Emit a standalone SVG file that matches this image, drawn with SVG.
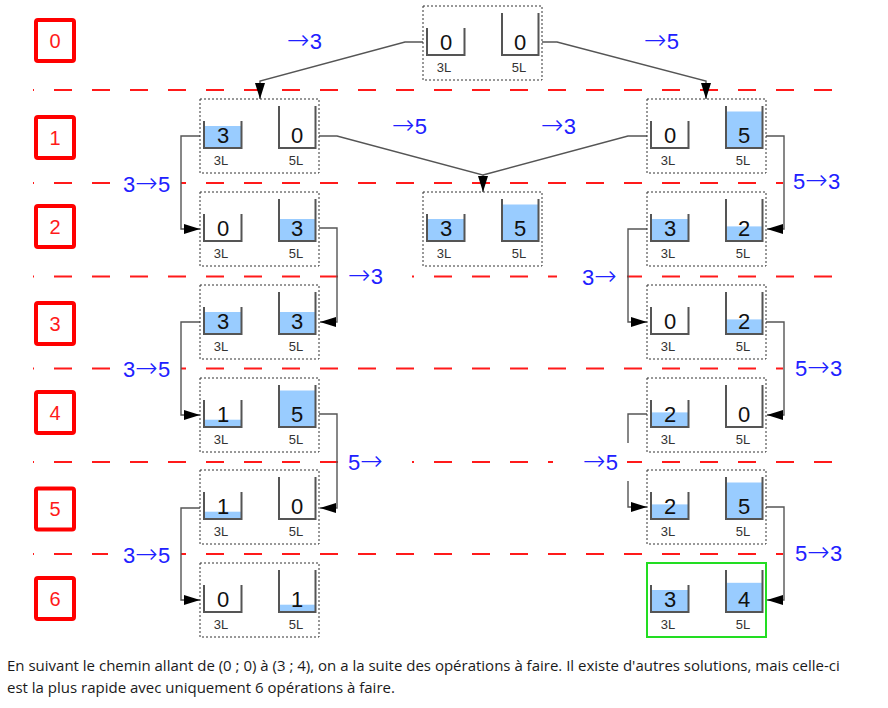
<svg xmlns="http://www.w3.org/2000/svg" xmlns:xlink="http://www.w3.org/1999/xlink" width="888" height="708" viewBox="0 0 888 708">
<style>
.lvl{fill:none;stroke:#ff0000;stroke-width:4}
.lvlt{font-family:"Liberation Sans",Arial,sans-serif;font-size:20px;fill:#ff1a1a;text-anchor:middle}
.sep{stroke:#ff1a1a;stroke-width:2;stroke-dasharray:18 20;stroke-dashoffset:17;fill:none}
.gap{fill:#ffffff}
.box{fill:none;stroke:#333;stroke-width:1;stroke-dasharray:2 2}
.goal{fill:none;stroke:#22dd22;stroke-width:2}
.jar{fill:none;stroke:#555;stroke-width:2}
.w{fill:#99ccff}
.num{font-family:"Liberation Sans",Arial,sans-serif;font-size:22px;fill:#111;text-anchor:middle}
.cap{font-family:"Liberation Sans",Arial,sans-serif;font-size:13px;fill:#333;text-anchor:middle}
.op{font-family:"Liberation Sans",Arial,sans-serif;font-size:22px;fill:#2020ff}
.ar{font-family:"DejaVu Sans",sans-serif;font-size:27px;font-weight:200}
.con{fill:none;stroke:#555;stroke-width:1.4}
.note{font-family:"Open Sans","Noto Sans",sans-serif;font-size:15px;fill:#1a1a1a}
</style>
<defs>
<marker id="ah" markerUnits="userSpaceOnUse" markerWidth="16" markerHeight="10" refX="16" refY="5" orient="auto">
<path d="M0,0 L16,5 L0,10 z" fill="#000"/>
</marker>
<path id="jar3" class="jar" d="M4,22 V49 H41.5 V22"/>
<path id="jar5" class="jar" d="M79,7 V49 H115.5 V7"/>
</defs>

<g id="levels">
<rect class="lvl" x="36" y="20" width="38" height="41" rx="2"/><text class="lvlt" x="55" y="47.5">0</text>
<rect class="lvl" x="36" y="117" width="38" height="41" rx="2"/><text class="lvlt" x="55" y="144.5">1</text>
<rect class="lvl" x="36" y="206" width="38" height="41" rx="2"/><text class="lvlt" x="55" y="233.5">2</text>
<rect class="lvl" x="36" y="303" width="38" height="41" rx="2"/><text class="lvlt" x="55" y="330.5">3</text>
<rect class="lvl" x="36" y="392" width="38" height="41" rx="2"/><text class="lvlt" x="55" y="419.5">4</text>
<rect class="lvl" x="36" y="488.5" width="38" height="41" rx="2"/><text class="lvlt" x="55" y="516">5</text>
<rect class="lvl" x="36" y="578" width="38" height="41" rx="2"/><text class="lvlt" x="55" y="605.5">6</text>
</g>

<g id="separators">
<line class="sep" x1="33" y1="90" x2="848" y2="90"/>
<line class="sep" x1="33" y1="183" x2="848" y2="183"/>
<line class="sep" x1="33" y1="276.5" x2="848" y2="276.5"/>
<line class="sep" x1="33" y1="368.5" x2="848" y2="368.5"/>
<line class="sep" x1="33" y1="462" x2="848" y2="462"/>
<line class="sep" x1="33" y1="554" x2="848" y2="554"/>
<rect class="gap" x="110" y="171" width="71" height="24"/>
<rect class="gap" x="783" y="171" width="70" height="24"/>
<rect class="gap" x="338" y="264" width="74" height="24"/>
<rect class="gap" x="557" y="264" width="70" height="24"/>
<rect class="gap" x="111" y="356" width="70" height="24"/>
<rect class="gap" x="783" y="356" width="70" height="24"/>
<rect class="gap" x="338" y="450" width="74" height="24"/>
<rect class="gap" x="553" y="450" width="74" height="24"/>
<rect class="gap" x="108" y="542" width="73" height="24"/>
<rect class="gap" x="783" y="542" width="70" height="24"/>
</g>

<g id="connectors">
<path class="con" d="M423,42 H405 L260,81 V99" marker-end="url(#ah)"/>
<path class="con" d="M542,42 H557 L706,81 V99" marker-end="url(#ah)"/>
<path class="con" d="M319,136 H337 L483,175 V192" marker-end="url(#ah)"/>
<path class="con" d="M647,136 H628 L483,175"/>
<path class="con" d="M200,136 H181 V229 H200" marker-end="url(#ah)"/>
<path class="con" d="M319,228 H337 V322 H320" marker-end="url(#ah)"/>
<path class="con" d="M200,322 H181 V415 H200" marker-end="url(#ah)"/>
<path class="con" d="M319,414 H337 V508 H320" marker-end="url(#ah)"/>
<path class="con" d="M200,508 H181 V600 H200" marker-end="url(#ah)"/>
<path class="con" d="M766,136 H784 V229 H767" marker-end="url(#ah)"/>
<path class="con" d="M647,229 H628 V322 H647" marker-end="url(#ah)"/>
<path class="con" d="M766,322 H784 V415 H767" marker-end="url(#ah)"/>
<path class="con" d="M647,414 H628 V443"/>
<path class="con" d="M628,481 V507 H647" marker-end="url(#ah)"/>
<path class="con" d="M766,507 H784 V600 H767" marker-end="url(#ah)"/>
</g>

<g id="operations">
<text class="op" x="287" y="49"><tspan class="ar">→</tspan>3</text>
<text class="op" x="644" y="49"><tspan class="ar">→</tspan>5</text>
<text class="op" x="392" y="134"><tspan class="ar">→</tspan>5</text>
<text class="op" x="541" y="134"><tspan class="ar">→</tspan>3</text>
<text class="op" x="123" y="192">3<tspan class="ar">→</tspan>5</text>
<text class="op" x="793" y="189">5<tspan class="ar">→</tspan>3</text>
<text class="op" x="348" y="284"><tspan class="ar">→</tspan>3</text>
<text class="op" x="582" y="285">3<tspan class="ar">→</tspan></text>
<text class="op" x="123" y="377">3<tspan class="ar">→</tspan>5</text>
<text class="op" x="795" y="376">5<tspan class="ar">→</tspan>3</text>
<text class="op" x="348" y="470">5<tspan class="ar">→</tspan></text>
<text class="op" x="583" y="470"><tspan class="ar">→</tspan>5</text>
<text class="op" x="123" y="563">3<tspan class="ar">→</tspan>5</text>
<text class="op" x="795" y="561">5<tspan class="ar">→</tspan>3</text>
</g>

<g id="n0" transform="translate(423,6)">
<rect class="box" x="0" y="0" width="119" height="74"/>
<use xlink:href="#jar3"/><use xlink:href="#jar5"/>
<text class="num" x="23" y="44">0</text><text class="num" x="97" y="44">0</text>
<text class="cap" x="21" y="66">3L</text><text class="cap" x="96" y="66">5L</text>
</g>

<g id="n1a" transform="translate(200,99)">
<rect class="box" x="0" y="0" width="119" height="74"/>
<rect class="w" x="4" y="27" width="37.5" height="22"/>
<use xlink:href="#jar3"/><use xlink:href="#jar5"/>
<text class="num" x="23" y="44">3</text><text class="num" x="97" y="44">0</text>
<text class="cap" x="21" y="66">3L</text><text class="cap" x="96" y="66">5L</text>
</g>

<g id="n1b" transform="translate(647,99)">
<rect class="box" x="0" y="0" width="119" height="74"/>
<rect class="w" x="79" y="12.5" width="36.5" height="36.5"/>
<use xlink:href="#jar3"/><use xlink:href="#jar5"/>
<text class="num" x="23" y="44">0</text><text class="num" x="97" y="44">5</text>
<text class="cap" x="21" y="66">3L</text><text class="cap" x="96" y="66">5L</text>
</g>

<g id="n2a" transform="translate(200,192)">
<rect class="box" x="0" y="0" width="119" height="74"/>
<rect class="w" x="79" y="27" width="36.5" height="22"/>
<use xlink:href="#jar3"/><use xlink:href="#jar5"/>
<text class="num" x="23" y="44">0</text><text class="num" x="97" y="44">3</text>
<text class="cap" x="21" y="66">3L</text><text class="cap" x="96" y="66">5L</text>
</g>

<g id="n2m" transform="translate(423,192)">
<rect class="box" x="0" y="0" width="119" height="74"/>
<rect class="w" x="4" y="27" width="37.5" height="22"/>
<rect class="w" x="79" y="12.5" width="36.5" height="36.5"/>
<use xlink:href="#jar3"/><use xlink:href="#jar5"/>
<text class="num" x="23" y="44">3</text><text class="num" x="97" y="44">5</text>
<text class="cap" x="21" y="66">3L</text><text class="cap" x="96" y="66">5L</text>
</g>

<g id="n2b" transform="translate(647,192)">
<rect class="box" x="0" y="0" width="119" height="74"/>
<rect class="w" x="4" y="27" width="37.5" height="22"/>
<rect class="w" x="79" y="34.4" width="36.5" height="14.6"/>
<use xlink:href="#jar3"/><use xlink:href="#jar5"/>
<text class="num" x="23" y="44">3</text><text class="num" x="97" y="44">2</text>
<text class="cap" x="21" y="66">3L</text><text class="cap" x="96" y="66">5L</text>
</g>

<g id="n3a" transform="translate(200,285)">
<rect class="box" x="0" y="0" width="119" height="74"/>
<rect class="w" x="4" y="27" width="37.5" height="22"/>
<rect class="w" x="79" y="27" width="36.5" height="22"/>
<use xlink:href="#jar3"/><use xlink:href="#jar5"/>
<text class="num" x="23" y="44">3</text><text class="num" x="97" y="44">3</text>
<text class="cap" x="21" y="66">3L</text><text class="cap" x="96" y="66">5L</text>
</g>

<g id="n3b" transform="translate(647,285)">
<rect class="box" x="0" y="0" width="119" height="74"/>
<rect class="w" x="79" y="34.4" width="36.5" height="14.6"/>
<use xlink:href="#jar3"/><use xlink:href="#jar5"/>
<text class="num" x="23" y="44">0</text><text class="num" x="97" y="44">2</text>
<text class="cap" x="21" y="66">3L</text><text class="cap" x="96" y="66">5L</text>
</g>

<g id="n4a" transform="translate(200,378)">
<rect class="box" x="0" y="0" width="119" height="74"/>
<rect class="w" x="4" y="41.7" width="37.5" height="7.3"/>
<rect class="w" x="79" y="12.5" width="36.5" height="36.5"/>
<use xlink:href="#jar3"/><use xlink:href="#jar5"/>
<text class="num" x="23" y="44">1</text><text class="num" x="97" y="44">5</text>
<text class="cap" x="21" y="66">3L</text><text class="cap" x="96" y="66">5L</text>
</g>

<g id="n4b" transform="translate(647,378)">
<rect class="box" x="0" y="0" width="119" height="74"/>
<rect class="w" x="4" y="34.4" width="37.5" height="14.6"/>
<use xlink:href="#jar3"/><use xlink:href="#jar5"/>
<text class="num" x="23" y="44">2</text><text class="num" x="97" y="44">0</text>
<text class="cap" x="21" y="66">3L</text><text class="cap" x="96" y="66">5L</text>
</g>

<g id="n5a" transform="translate(200,470)">
<rect class="box" x="0" y="0" width="119" height="74"/>
<rect class="w" x="4" y="41.7" width="37.5" height="7.3"/>
<use xlink:href="#jar3"/><use xlink:href="#jar5"/>
<text class="num" x="23" y="44">1</text><text class="num" x="97" y="44">0</text>
<text class="cap" x="21" y="66">3L</text><text class="cap" x="96" y="66">5L</text>
</g>

<g id="n5b" transform="translate(647,470)">
<rect class="box" x="0" y="0" width="119" height="74"/>
<rect class="w" x="4" y="34.4" width="37.5" height="14.6"/>
<rect class="w" x="79" y="12.5" width="36.5" height="36.5"/>
<use xlink:href="#jar3"/><use xlink:href="#jar5"/>
<text class="num" x="23" y="44">2</text><text class="num" x="97" y="44">5</text>
<text class="cap" x="21" y="66">3L</text><text class="cap" x="96" y="66">5L</text>
</g>

<g id="n6a" transform="translate(200,563)">
<rect class="box" x="0" y="0" width="119" height="74"/>
<rect class="w" x="79" y="41.7" width="36.5" height="7.3"/>
<use xlink:href="#jar3"/><use xlink:href="#jar5"/>
<text class="num" x="23" y="44">0</text><text class="num" x="97" y="44">1</text>
<text class="cap" x="21" y="66">3L</text><text class="cap" x="96" y="66">5L</text>
</g>

<g id="n6b" transform="translate(647,563)">
<rect class="goal" x="0" y="0" width="119" height="74"/>
<rect class="w" x="4" y="27" width="37.5" height="22"/>
<rect class="w" x="79" y="19.8" width="36.5" height="29.2"/>
<use xlink:href="#jar3"/><use xlink:href="#jar5"/>
<text class="num" x="23" y="44">3</text><text class="num" x="97" y="44">4</text>
<text class="cap" x="21" y="66">3L</text><text class="cap" x="96" y="66">5L</text>
</g>

<g id="caption">
<text class="note" x="7" y="671">En suivant le chemin allant de (0 ; 0) à (3 ; 4), on a la suite des opérations à faire. Il existe d'autres solutions, mais celle-ci</text>
<text class="note" x="7" y="693">est la plus rapide avec uniquement 6 opérations à faire.</text>
</g>
</svg>
